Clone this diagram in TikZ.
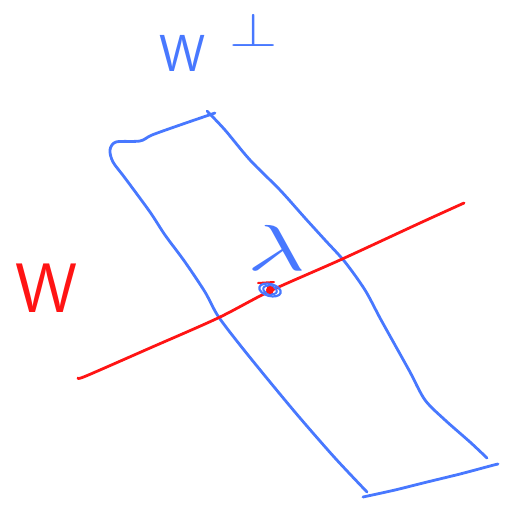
\documentclass[tikz,border=0pt]{standalone}
\usepackage{amsmath}
\usepackage{amssymb}
\usepackage{tikz}

\definecolor{penblue}{RGB}{72,120,255}
\definecolor{penred}{RGB}{255,20,20}

\begin{document}
\begin{tikzpicture}[x=1pt, y=-1pt,
  bluepen/.style={draw=penblue, line width=2.8pt, line cap=round, line join=round},
  redpen/.style={draw=penred, line width=2.8pt, line cap=round, line join=round},
  bigtext/.style={inner sep=0pt, font=\sffamily\fontsize{52}{52}\selectfont}]

% Drawing window
\useasboundingbox (0,0) rectangle (513,504);

% Labels
\node[bigtext, text=penblue] (lblW) at (183,53) {W};
\node[inner sep=0pt, text=penblue] (lblPerp) at (254,30) {\scalebox{6.2}[4.8]{$\perp$}};
\node[bigtext, text=penred, font=\sffamily\fontsize{70}{70}\selectfont] (lblWred) at (47,288) {W};
\node[inner sep=0pt, text=penblue] (lblLambda) at (277,248) {\scalebox{10}[6.5]{$\lambda$}};

% Blue strip: top and left side
\draw[bluepen] plot[smooth, tension=0.5] coordinates {
  (215,113) (180,125) (152,135) (140,141) (116,142) (110,150) (113,162)
  (125,178) (150,212) (165,235) (185,262) (205,292) (218,316) (240,345)
  (270,382) (300,418) (335,458) (367,492)};

% Blue strip: right side
\draw[bluepen] plot[smooth, tension=0.5] coordinates {
  (207,111) (225,130) (250,160) (280,190) (305,218) (325,240) (345,262)
  (365,290) (380,318) (395,345) (410,372) (425,400) (445,420) (470,442) (487,458)};

% Blue strip: bottom
\draw[bluepen] plot[smooth, tension=0.5] coordinates {
  (363,497) (395,490) (423,483) (460,474) (490,466) (498,464)};

% Red line W
\draw[redpen] plot[smooth, tension=0.5] coordinates {
  (78,378) (86,376) (150,348) (218,318) (270,291) (340,260) (420,223) (464,203)};

% Marked point
\coordinate (pt) at (270,290);
\draw[redpen, line width=2pt] (258,283) -- (274,282);
\draw[bluepen, line width=2.2pt, rotate around={-15:(pt)}] (pt) ellipse (11 and 6);
\draw[bluepen, line width=2pt, rotate around={-15:(pt)}] (pt) ellipse (7 and 4);
\fill[penred] (pt) circle (4);

\end{tikzpicture}
\end{document}
